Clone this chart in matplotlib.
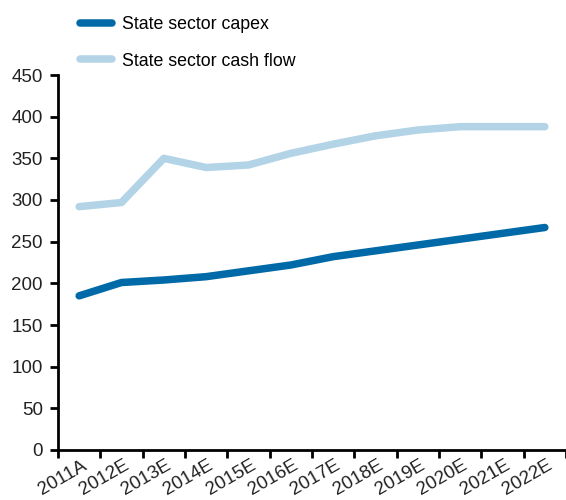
import numpy as np
import matplotlib
matplotlib.use('Agg')
import matplotlib.pyplot as plt

# ------------------- Data -------------------
years = ['2011A', '2012E', '2013E', '2014E', '2015E', '2016E',
         '2017E', '2018E', '2019E', '2020E', '2021E', '2022E']
capex = [185, 201, 204, 208, 215, 222, 232, 239, 246, 253, 260, 267]
cash_flow = [292, 297, 350, 339, 342, 356, 367, 377, 384, 388, 388, 388]

capex_color = '#0069a7'
cash_color = '#b3d4e7'

plt.rcParams['font.family'] = ['Liberation Sans', 'DejaVu Sans']
plt.rcParams['font.size'] = 13.5

# ------------------- Plot -------------------
fig = plt.figure(figsize=(5.66, 5.0), dpi=100)
ax = fig.add_axes([58 / 566, 50 / 500, 508 / 566, 375 / 500])

x = np.arange(len(years))
l1, = ax.plot(x, capex, color=capex_color, lw=5.4, solid_capstyle='round',
              solid_joinstyle='round', label='State sector capex')
l2, = ax.plot(x, cash_flow, color=cash_color, lw=5.4, solid_capstyle='round',
              solid_joinstyle='round', label='State sector cash flow')

ax.set_xlim(-0.5, len(years) - 0.5)
ax.set_ylim(0, 450)
ax.set_yticks(np.arange(0, 451, 50))

# tick marks between categories, labels at category centres
ax.set_xticks(np.arange(len(years) + 1) - 0.5)
ax.set_xticklabels([])
ax.set_xticks(x + 0.04, minor=True)
ax.set_xticklabels(years, minor=True, rotation=30, ha='right', va='top',
                   rotation_mode='anchor', color='#222222')
ax.tick_params(axis='x', which='minor', length=0, pad=5)
ax.tick_params(axis='x', which='major', length=6, width=2, direction='out')
ax.tick_params(axis='y', length=6, width=2, direction='out', pad=5,
               labelcolor='#222222')

for side in ['top', 'right']:
    ax.spines[side].set_visible(False)
for side in ['left', 'bottom']:
    ax.spines[side].set_linewidth(2)
    ax.spines[side].set_color('black')

fig.legend(handles=[l1, l2], loc='upper left',
           bbox_to_anchor=(64 / 566, 1 - 0 / 500), frameon=False,
           handlelength=1.8, handletextpad=0.55, labelspacing=1.1,
           fontsize=12.8)

fig.savefig('out.png', dpi=100)
